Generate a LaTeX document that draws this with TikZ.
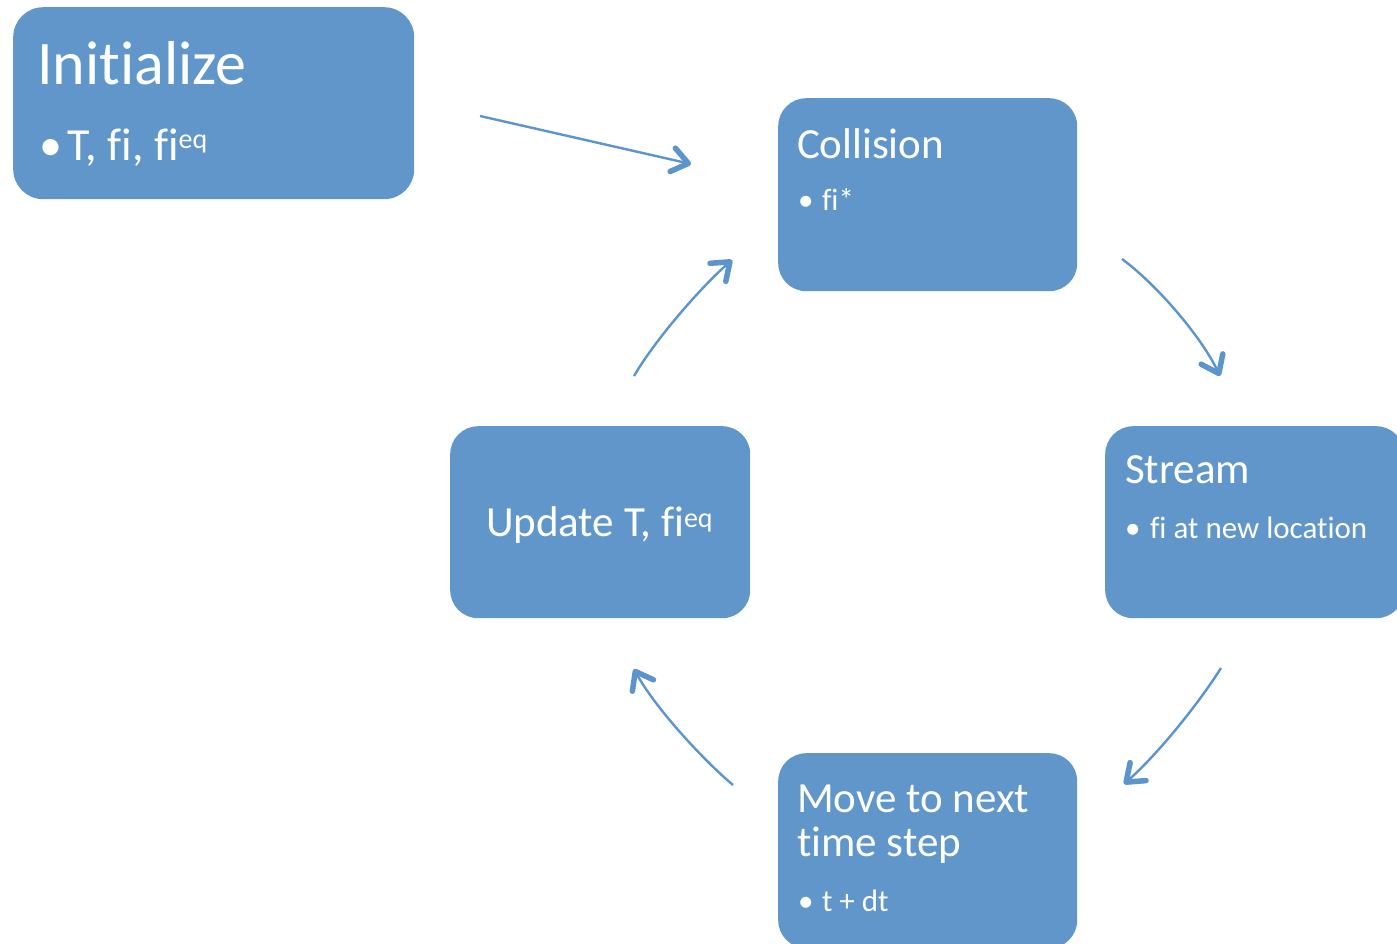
\documentclass[tikz,border=0pt]{standalone}
\usepackage{fontspec}
\setmainfont{Carlito}[RawFeature={-liga;-dlig;-clig}]
\usetikzlibrary{arrows.meta}
\definecolor{boxblue}{RGB}{96,150,201}
\definecolor{arrowblue}{RGB}{92,148,204}
\newcommand\fiNL{f\kern0pt i}
\newcommand\tiNL{t\kern0pt i}
\begin{document}
\begin{tikzpicture}[x=1pt,y=-1pt,
  box/.style={fill=boxblue, draw=none, rounded corners=28pt, anchor=north west, inner sep=0pt},
  txt/.style={text=white, anchor=base west, inner sep=0pt, outer sep=0pt},
  bigt/.style={txt, font=\fontsize{62}{72}\selectfont},
  midt/.style={txt, font=\fontsize{43}{45}\selectfont},
  smlt/.style={txt, font=\fontsize{31}{34}\selectfont},
  conn/.style={draw=arrowblue, line width=2.4pt,
    -{Straight Barb[length=16pt,width=24pt,line width=5.5pt,round]}}]
\useasboundingbox (0,0) rectangle (1397,943);

% boxes
\node[box, minimum width=401pt, minimum height=192pt, rounded corners=30pt] (init) at (13,7) {};
\node[box, minimum width=299pt, minimum height=193pt] (coll) at (778,98) {};
\node[box, minimum width=299pt, minimum height=192pt] (strm) at (1105,426) {};
\node[box, minimum width=300pt, minimum height=192pt] (updt) at (450,426) {};
\node[box, minimum width=299pt, minimum height=195pt] (move) at (778,753) {};

% texts
\node[bigt] (tinit) at (37,84) {Ini\tiNL alize};
\node[txt, font=\fontsize{46}{50}\selectfont] (binit) at (39,160) {\makebox[29pt][l]{•}T, \fiNL, \fiNL\raisebox{12pt}{\fontsize{28}{28}\selectfont eq}};
\node[midt] (tcoll) at (797,158) {Collision};
\node[smlt] (bcoll) at (798,210) {\makebox[24pt][l]{•}\fiNL*};
\node[midt] (tstrm) at (1125,483) {Stream};
\node[smlt] (bstrm) at (1125,538) {\makebox[25pt][l]{•}\fiNL\ at new location};
\node[midt] (tupdt) at (486,536) {Update T, \fiNL\raisebox{9pt}{\fontsize{28}{28}\selectfont eq}};
\node[midt] (tmove1) at (797,812) {Move to next};
\node[midt] (tmove2) at (797,856) {\tiNL me step};
\node[smlt] (bmove) at (798,911) {\makebox[24pt][l]{•}t + dt};

% connector end points
\coordinate (a1s) at (480,116);
\coordinate (a1e) at (691,164);
\coordinate (a2s) at (1122,259);
\coordinate (a2e) at (1220,376);
\coordinate (a3s) at (1221,668);
\coordinate (a3e) at (1124,784);
\coordinate (a4s) at (733,785);
\coordinate (a4e) at (634,669);
\coordinate (a5s) at (634,376);
\coordinate (a5e) at (732,260);

\draw[conn] (a1s) -- (a1e);
\draw[conn] (a2s) .. controls (1156,284) and (1201,336) .. (a2e);
\draw[conn] (a3s) .. controls (1199,703) and (1158,754) .. (a3e);
\draw[conn] (a4s) .. controls (701,758) and (654,706) .. (a4e);
\draw[conn] (a5s) .. controls (655,340) and (700,288) .. (a5e);
\end{tikzpicture}
\end{document}
